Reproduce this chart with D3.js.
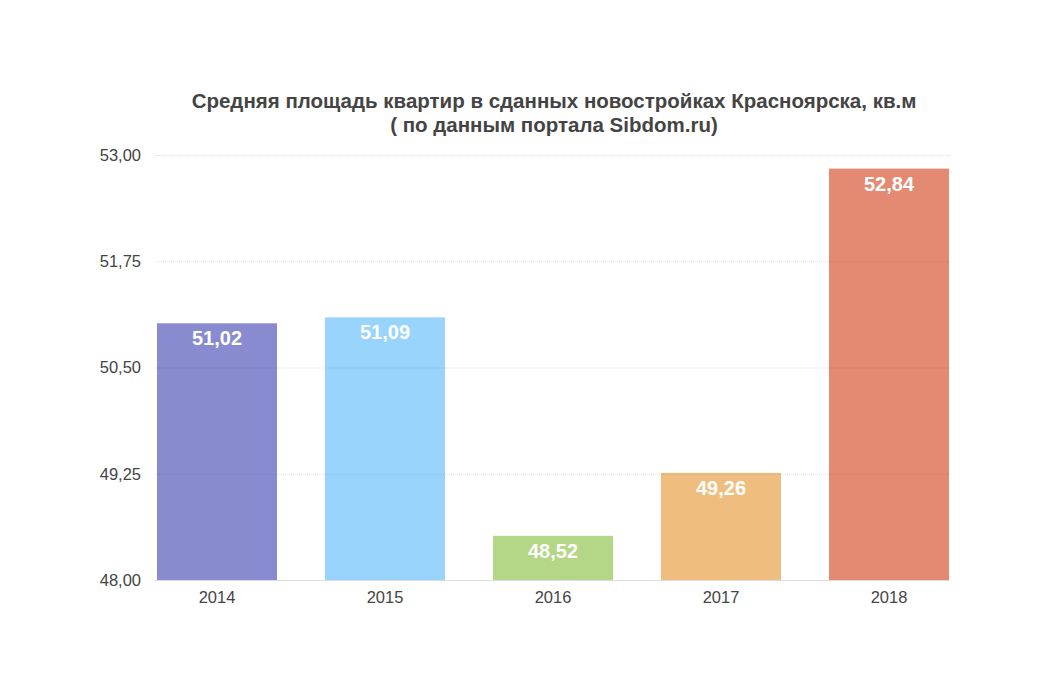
<!DOCTYPE html>
<html lang="ru">
<head>
<meta charset="utf-8">
<title>Средняя площадь квартир</title>
<script src="https://d3js.org/d3.v7.min.js"></script>
<style>
  body { margin: 0; background: #fff; }
  text { font-family: "Liberation Sans", Arial, Helvetica, sans-serif; }
  .grid line { stroke: #000; stroke-opacity: 0.12; stroke-dasharray: 1 1; }
</style>
</head>
<body>
<script>
// data
var years = ["2014", "2015", "2016", "2017", "2018"];
var values = [51.02, 51.09, 48.52, 49.26, 52.84];
var colors = ["#888bd0", "#99d4fd", "#b3d687", "#efbe7e", "#e48a72"];
var yTicks = [48, 49.25, 50.5, 51.75, 53];
var titleLines = ["Средняя площадь квартир в сданных новостройках Красноярска, кв.м",
                  "( по данным портала Sibdom.ru)"];

var w = 1050, h = 700;
var plotLeft = 155, plotRight = 950, plotTop = 155, plotBottom = 580;

var svg = d3.select("body").append("svg")
  .attr("width", w)
  .attr("height", h);

// step 168, bar 120, first bar at 157
var x = d3.scaleBand()
  .domain(years)
  .range([133, 973])
  .paddingInner(48 / 168)
  .paddingOuter(24 / 168);

var y = d3.scaleLinear()
  .domain([48, 53])
  .range([plotBottom, plotTop]);

var fmt = function(v) { return d3.format(".2f")(v).replace(".", ","); };

// title
svg.append("g").selectAll("text")
  .data(titleLines)
  .enter().append("text")
  .attr("x", 554)
  .attr("y", function(d, i) { return 108 + i * 23.5; })
  .attr("text-anchor", "middle")
  .attr("font-size", "20.5px")
  .attr("font-weight", "bold")
  .attr("fill", "#444")
  .text(function(d) { return d; });

// bars
svg.append("g").selectAll("rect")
  .data(values)
  .enter().append("rect")
  .attr("x", function(d, i) { return x(years[i]); })
  .attr("y", function(d) { return y(d); })
  .attr("width", x.bandwidth())
  .attr("height", function(d) { return y(48) - y(d); })
  .attr("fill", function(d, i) { return colors[i]; });

// gridlines (drawn over bars)
var grid = svg.append("g").attr("class", "grid");
grid.selectAll("line")
  .data(yTicks.slice(1))
  .enter().append("line")
  .attr("x1", plotLeft)
  .attr("x2", plotRight)
  .attr("y1", function(d) { return y(d) + 0.5; })
  .attr("y2", function(d) { return y(d) + 0.5; });

svg.append("line")
  .attr("x1", plotLeft)
  .attr("x2", plotRight)
  .attr("y1", y(48) + 0.5)
  .attr("y2", y(48) + 0.5)
  .attr("stroke", "#dedede");

// y axis
var yAxis = svg.append("g")
  .attr("transform", "translate(141,0)")
  .call(d3.axisLeft(y).tickValues(yTicks).tickFormat(fmt).tickSize(0).tickPadding(0));
yAxis.select(".domain").remove();
yAxis.selectAll("text")
  .attr("font-size", "16.5px")
  .attr("fill", "#444")
  .attr("font-family", "Liberation Sans, Arial, sans-serif");

// x axis
var xAxis = svg.append("g")
  .attr("transform", "translate(0," + y(48) + ")")
  .call(d3.axisBottom(x).tickSize(0).tickPadding(11));
xAxis.select(".domain").remove();
xAxis.selectAll("text")
  .attr("font-size", "16.5px")
  .attr("fill", "#444")
  .attr("font-family", "Liberation Sans, Arial, sans-serif");

// value labels
svg.append("g").selectAll("text")
  .data(values)
  .enter().append("text")
  .attr("x", function(d, i) { return x(years[i]) + x.bandwidth() / 2; })
  .attr("y", function(d) { return y(d) + 22; })
  .attr("text-anchor", "middle")
  .attr("font-size", "20px")
  .attr("font-weight", "bold")
  .attr("fill", "#fff")
  .text(fmt);
</script>
</body>
</html>
